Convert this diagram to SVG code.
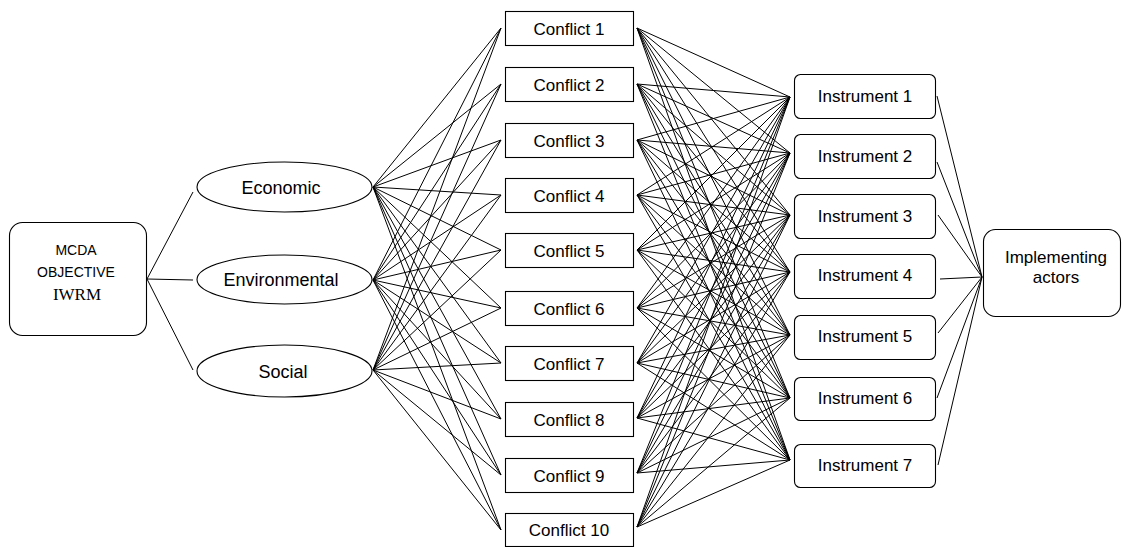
<svg xmlns="http://www.w3.org/2000/svg" width="1123" height="547" viewBox="0 0 1123 547">
<style>
.c line{stroke:#000;stroke-width:1}
.box{fill:#fff;stroke:#000;stroke-width:1.1}
.t{font-family:"Liberation Sans",Arial,sans-serif;font-size:17px;fill:#000;text-anchor:middle}
.s{font-family:"Liberation Sans",Arial,sans-serif;font-size:14px;fill:#000;text-anchor:middle}
.sr{font-family:"Liberation Serif","Times New Roman",serif;font-size:17px;fill:#000;text-anchor:middle}
.e{font-size:18px}
</style>
<rect width="1123" height="547" fill="#fff"/>
<g class="c" id="connectors">
<line x1="147" y1="279" x2="193" y2="192"/>
<line x1="147" y1="279" x2="193" y2="280"/>
<line x1="147" y1="279" x2="193" y2="370"/>
<line x1="373" y1="187" x2="501" y2="28"/><line x1="373" y1="187" x2="501" y2="84"/><line x1="373" y1="187" x2="501" y2="140"/><line x1="373" y1="187" x2="501" y2="195"/><line x1="373" y1="187" x2="501" y2="250"/><line x1="373" y1="187" x2="501" y2="308"/><line x1="373" y1="187" x2="501" y2="363"/><line x1="373" y1="187" x2="501" y2="419"/><line x1="373" y1="187" x2="501" y2="475"/><line x1="373" y1="187" x2="501" y2="530"/>
<line x1="373" y1="280" x2="501" y2="28"/><line x1="373" y1="280" x2="501" y2="84"/><line x1="373" y1="280" x2="501" y2="140"/><line x1="373" y1="280" x2="501" y2="195"/><line x1="373" y1="280" x2="501" y2="250"/><line x1="373" y1="280" x2="501" y2="308"/><line x1="373" y1="280" x2="501" y2="363"/><line x1="373" y1="280" x2="501" y2="419"/><line x1="373" y1="280" x2="501" y2="475"/><line x1="373" y1="280" x2="501" y2="530"/>
<line x1="373" y1="370" x2="501" y2="28"/><line x1="373" y1="370" x2="501" y2="84"/><line x1="373" y1="370" x2="501" y2="140"/><line x1="373" y1="370" x2="501" y2="195"/><line x1="373" y1="370" x2="501" y2="250"/><line x1="373" y1="370" x2="501" y2="308"/><line x1="373" y1="370" x2="501" y2="363"/><line x1="373" y1="370" x2="501" y2="419"/><line x1="373" y1="370" x2="501" y2="475"/><line x1="373" y1="370" x2="501" y2="530"/>
<line x1="637" y1="28" x2="790" y2="97"/><line x1="637" y1="28" x2="790" y2="153"/><line x1="637" y1="28" x2="790" y2="215"/><line x1="637" y1="28" x2="790" y2="272"/><line x1="637" y1="28" x2="790" y2="335"/><line x1="637" y1="28" x2="790" y2="398"/><line x1="637" y1="28" x2="790" y2="460"/>
<line x1="637" y1="84" x2="790" y2="97"/><line x1="637" y1="84" x2="790" y2="153"/><line x1="637" y1="84" x2="790" y2="215"/><line x1="637" y1="84" x2="790" y2="272"/><line x1="637" y1="84" x2="790" y2="335"/><line x1="637" y1="84" x2="790" y2="398"/><line x1="637" y1="84" x2="790" y2="460"/>
<line x1="637" y1="140" x2="790" y2="97"/><line x1="637" y1="140" x2="790" y2="153"/><line x1="637" y1="140" x2="790" y2="215"/><line x1="637" y1="140" x2="790" y2="272"/><line x1="637" y1="140" x2="790" y2="335"/><line x1="637" y1="140" x2="790" y2="398"/><line x1="637" y1="140" x2="790" y2="460"/>
<line x1="637" y1="195" x2="790" y2="97"/><line x1="637" y1="195" x2="790" y2="153"/><line x1="637" y1="195" x2="790" y2="215"/><line x1="637" y1="195" x2="790" y2="272"/><line x1="637" y1="195" x2="790" y2="335"/><line x1="637" y1="195" x2="790" y2="398"/><line x1="637" y1="195" x2="790" y2="460"/>
<line x1="637" y1="250" x2="790" y2="97"/><line x1="637" y1="250" x2="790" y2="153"/><line x1="637" y1="250" x2="790" y2="215"/><line x1="637" y1="250" x2="790" y2="272"/><line x1="637" y1="250" x2="790" y2="335"/><line x1="637" y1="250" x2="790" y2="398"/><line x1="637" y1="250" x2="790" y2="460"/>
<line x1="637" y1="308" x2="790" y2="97"/><line x1="637" y1="308" x2="790" y2="153"/><line x1="637" y1="308" x2="790" y2="215"/><line x1="637" y1="308" x2="790" y2="272"/><line x1="637" y1="308" x2="790" y2="335"/><line x1="637" y1="308" x2="790" y2="398"/><line x1="637" y1="308" x2="790" y2="460"/>
<line x1="637" y1="363" x2="790" y2="97"/><line x1="637" y1="363" x2="790" y2="153"/><line x1="637" y1="363" x2="790" y2="215"/><line x1="637" y1="363" x2="790" y2="272"/><line x1="637" y1="363" x2="790" y2="335"/><line x1="637" y1="363" x2="790" y2="398"/><line x1="637" y1="363" x2="790" y2="460"/>
<line x1="637" y1="418" x2="790" y2="97"/><line x1="637" y1="418" x2="790" y2="153"/><line x1="637" y1="418" x2="790" y2="215"/><line x1="637" y1="418" x2="790" y2="272"/><line x1="637" y1="418" x2="790" y2="335"/><line x1="637" y1="418" x2="790" y2="398"/><line x1="637" y1="418" x2="790" y2="460"/>
<line x1="637" y1="473" x2="790" y2="97"/><line x1="637" y1="473" x2="790" y2="153"/><line x1="637" y1="473" x2="790" y2="215"/><line x1="637" y1="473" x2="790" y2="272"/><line x1="637" y1="473" x2="790" y2="335"/><line x1="637" y1="473" x2="790" y2="398"/><line x1="637" y1="473" x2="790" y2="460"/>
<line x1="637" y1="527" x2="790" y2="97"/><line x1="637" y1="527" x2="790" y2="153"/><line x1="637" y1="527" x2="790" y2="215"/><line x1="637" y1="527" x2="790" y2="272"/><line x1="637" y1="527" x2="790" y2="335"/><line x1="637" y1="527" x2="790" y2="398"/><line x1="637" y1="527" x2="790" y2="460"/>
<line x1="937" y1="96" x2="982" y2="277"/><line x1="937" y1="162" x2="982" y2="277"/><line x1="938" y1="215" x2="982" y2="277"/><line x1="940" y1="279" x2="982" y2="277"/><line x1="938" y1="333" x2="982" y2="277"/><line x1="937" y1="398" x2="982" y2="277"/><line x1="938" y1="465" x2="982" y2="277"/>
</g>
<g id="mcda"><rect class="box" x="9.5" y="222.5" width="137" height="113" rx="13"/><text class="s" x="76" y="255">MCDA</text><text class="s" x="76" y="277">OBJECTIVE</text><text class="sr" x="77" y="300">IWRM</text></g>
<g id="economic"><ellipse class="box" cx="284.5" cy="187" rx="87.5" ry="25"/><text class="t e" x="281" y="193.5">Economic</text></g>
<g id="environmental"><ellipse class="box" cx="284.5" cy="279.5" rx="87.5" ry="24.5"/><text class="t e" x="281" y="286">Environmental</text></g>
<g id="social"><ellipse class="box" cx="284.5" cy="371" rx="87.5" ry="26"/><text class="t e" x="283" y="377.5">Social</text></g>
<g id="conflict1"><rect class="box" x="505.5" y="11.5" width="128" height="34"/><text class="t" x="569" y="34.5">Conflict 1</text></g>
<g id="conflict2"><rect class="box" x="505.5" y="67.5" width="128" height="34"/><text class="t" x="569" y="90.5">Conflict 2</text></g>
<g id="conflict3"><rect class="box" x="505.5" y="123.5" width="128" height="34"/><text class="t" x="569" y="146.5">Conflict 3</text></g>
<g id="conflict4"><rect class="box" x="505.5" y="178.5" width="128" height="34"/><text class="t" x="569" y="201.5">Conflict 4</text></g>
<g id="conflict5"><rect class="box" x="505.5" y="233.5" width="128" height="34"/><text class="t" x="569" y="256.5">Conflict 5</text></g>
<g id="conflict6"><rect class="box" x="505.5" y="291.5" width="128" height="34"/><text class="t" x="569" y="314.5">Conflict 6</text></g>
<g id="conflict7"><rect class="box" x="505.5" y="346.5" width="128" height="34"/><text class="t" x="569" y="369.5">Conflict 7</text></g>
<g id="conflict8"><rect class="box" x="505.5" y="402.5" width="128" height="34"/><text class="t" x="569" y="425.5">Conflict 8</text></g>
<g id="conflict9"><rect class="box" x="505.5" y="458.5" width="128" height="34"/><text class="t" x="569" y="481.5">Conflict 9</text></g>
<g id="conflict10"><rect class="box" x="505.5" y="513.5" width="128" height="33"/><text class="t" x="569" y="536">Conflict 10</text></g>
<g id="instrument1"><rect class="box" x="794.5" y="74.5" width="141" height="44" rx="6"/><text class="t" x="865" y="102">Instrument 1</text></g>
<g id="instrument2"><rect class="box" x="794.5" y="134.5" width="141" height="44" rx="6"/><text class="t" x="865" y="162">Instrument 2</text></g>
<g id="instrument3"><rect class="box" x="794.5" y="194.5" width="141" height="44" rx="6"/><text class="t" x="865" y="222">Instrument 3</text></g>
<g id="instrument4"><rect class="box" x="794.5" y="254.5" width="141" height="44" rx="6"/><text class="t" x="865" y="281">Instrument 4</text></g>
<g id="instrument5"><rect class="box" x="794.5" y="315.5" width="141" height="44" rx="6"/><text class="t" x="865" y="342">Instrument 5</text></g>
<g id="instrument6"><rect class="box" x="794.5" y="377.5" width="141" height="43" rx="6"/><text class="t" x="865" y="404">Instrument 6</text></g>
<g id="instrument7"><rect class="box" x="794.5" y="444.5" width="141" height="43" rx="6"/><text class="t" x="865" y="471">Instrument 7</text></g>
<g id="actors"><rect class="box" x="983.5" y="229.5" width="137" height="87" rx="12"/><text class="t" x="1056" y="263">Implementing</text><text class="t" x="1056" y="283">actors</text></g>
</svg>
